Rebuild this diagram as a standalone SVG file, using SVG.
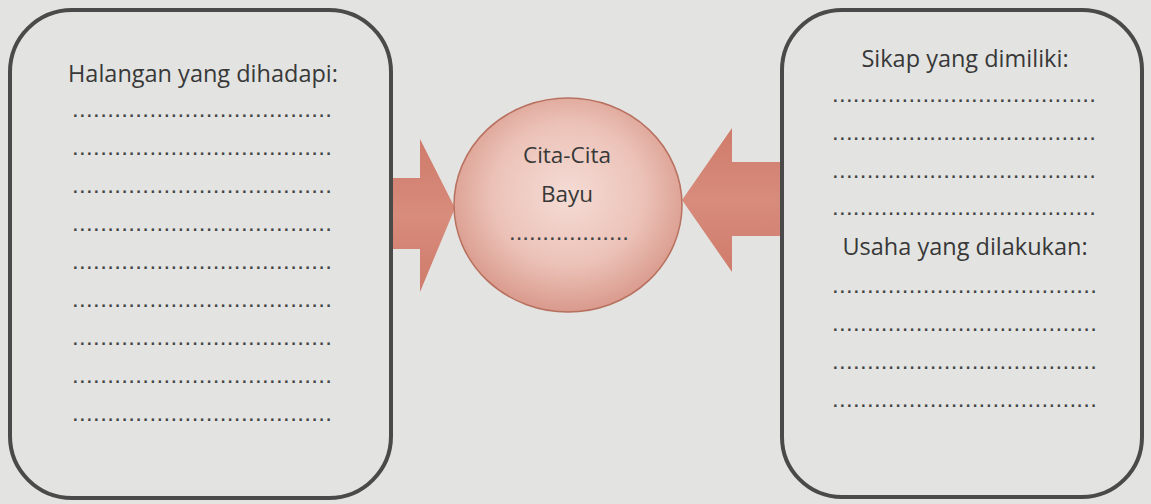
<svg xmlns="http://www.w3.org/2000/svg" width="1151" height="504" viewBox="0 0 1151 504">
<defs>
<radialGradient id="cg" cx="50%" cy="45%" r="55%">
<stop offset="0" stop-color="#f4dcd5"/>
<stop offset="0.6" stop-color="#ecc2b8"/>
<stop offset="1" stop-color="#d99a8c"/>
</radialGradient>
<linearGradient id="ag" x1="0" y1="0" x2="0" y2="1">
<stop offset="0" stop-color="#cf7b6b"/>
<stop offset="0.5" stop-color="#d88c7c"/>
<stop offset="1" stop-color="#cf7b6b"/>
</linearGradient>
</defs>
<style>
.box{fill:none;stroke:#4a4a4a;stroke-width:4}
.t{font-family:"Open Sans","Liberation Sans",sans-serif;fill:#383838}
.h{font-size:23.5px}
.c{font-size:22.5px}
.d{font-family:"Liberation Sans",sans-serif;font-size:24px;fill:#444}
.arr{fill:url(#ag)}
</style>
<rect width="1151" height="504" fill="#e3e4e2"/>
<g id="connectors">
<polygon class="arr" points="390,178 420,178 420,139 455,208 420,292 420,249 390,249"/>
<polygon class="arr" points="783,162 732,162 732,128 682,200 732,272 732,236 783,236"/>
</g>
<g id="halangan">
<rect class="box" x="10" y="10" width="381" height="488" rx="62" ry="62"/>
<text class="t h" x="68" y="82">Halangan yang dihadapi:</text>
<text class="d" x="72" y="117" textLength="260" lengthAdjust="spacing">.....................................</text>
<text class="d" x="72" y="155" textLength="260" lengthAdjust="spacing">.....................................</text>
<text class="d" x="72" y="193" textLength="260" lengthAdjust="spacing">.....................................</text>
<text class="d" x="72" y="231" textLength="260" lengthAdjust="spacing">.....................................</text>
<text class="d" x="72" y="269" textLength="260" lengthAdjust="spacing">.....................................</text>
<text class="d" x="72" y="307" textLength="260" lengthAdjust="spacing">.....................................</text>
<text class="d" x="72" y="345" textLength="260" lengthAdjust="spacing">.....................................</text>
<text class="d" x="72" y="383" textLength="260" lengthAdjust="spacing">.....................................</text>
<text class="d" x="72" y="421" textLength="260" lengthAdjust="spacing">.....................................</text>
</g>
<g id="cita">
<ellipse cx="568" cy="205" rx="114" ry="107" fill="url(#cg)" stroke="#b8705f" stroke-width="1.5"/>
<text class="t c" x="567" y="163" text-anchor="middle">Cita-Cita</text>
<text class="t c" x="567" y="202" text-anchor="middle">Bayu</text>
<text class="d" x="509" y="240" textLength="120" lengthAdjust="spacing">..................</text>
</g>
<g id="sikap">
<rect class="box" x="782" y="10" width="360" height="487" rx="60" ry="60"/>
<text class="t h" x="965" y="67" text-anchor="middle">Sikap yang dimiliki:</text>
<text class="d" x="832" y="102" textLength="264" lengthAdjust="spacing">......................................</text>
<text class="d" x="832" y="140" textLength="264" lengthAdjust="spacing">......................................</text>
<text class="d" x="832" y="178" textLength="264" lengthAdjust="spacing">......................................</text>
<text class="d" x="832" y="215" textLength="264" lengthAdjust="spacing">......................................</text>
<text class="t h" x="965" y="255" text-anchor="middle">Usaha yang dilakukan:</text>
<text class="d" x="832" y="293" textLength="265" lengthAdjust="spacing">......................................</text>
<text class="d" x="832" y="331" textLength="265" lengthAdjust="spacing">......................................</text>
<text class="d" x="832" y="369" textLength="265" lengthAdjust="spacing">......................................</text>
<text class="d" x="832" y="407" textLength="265" lengthAdjust="spacing">......................................</text>
</g>
</svg>
